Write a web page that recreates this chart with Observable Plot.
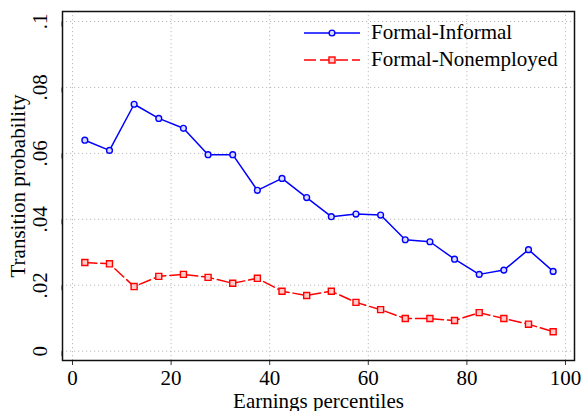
<!DOCTYPE html>
<html><head><meta charset="utf-8">
<script src="https://cdn.jsdelivr.net/npm/d3@7"></script>
<script src="https://cdn.jsdelivr.net/npm/@observablehq/plot@0.6"></script>
<style>
body{margin:0;background:#fff;}
#wrap{position:relative;width:582px;height:411px;font-family:"Liberation Serif","Times New Roman",serif;}
#legend{position:absolute;left:303px;top:19px;font-size:21px;line-height:27px;}
#legend div{display:flex;align-items:center;height:27px;}
#legend svg{margin-right:10px;}
</style></head><body><div id="wrap"></div>
<script>
const percentiles = [2.5,7.5,12.5,17.5,22.5,27.5,32.5,37.5,42.5,47.5,52.5,57.5,62.5,67.5,72.5,77.5,82.5,87.5,92.5,97.5];
const formalInformal = [0.0640,0.0609,0.0749,0.0706,0.0676,0.0596,0.0596,0.0488,0.0524,0.0466,0.0408,0.0416,0.0413,0.0338,0.0332,0.0279,0.0233,0.0246,0.0308,0.0242];
const formalNonemployed = [0.0269,0.0265,0.0196,0.0227,0.0233,0.0224,0.0206,0.0221,0.0182,0.0169,0.0182,0.0148,0.0126,0.0099,0.0099,0.0093,0.0117,0.0099,0.0082,0.0059];
const seriesNames = ["Formal-Informal","Formal-Nonemployed"];
const xTicks = [0,20,40,60,80,100];
const yTicks = [0,0.02,0.04,0.06,0.08,0.1];
const yTickLabels = ["0",".02",".04",".06",".08",".1"];
const xLabel = "Earnings percentiles";
const yLabel = "Transition probability";

const blue = "#0000ff", red = "#ff0000";
const grid = {stroke:"#bcbcbc", strokeOpacity:1, strokeDasharray:"1.2,2.8", strokeWidth:1};

const chart = Plot.plot({
  width:582, height:411,
  marginLeft:62, marginRight:8, marginTop:11, marginBottom:51,
  style:{fontFamily:"'Liberation Serif','Times New Roman',serif", fontSize:"21px", background:"white", color:"black"},
  x:{domain:[-2.03,101.83]},
  y:{domain:[-0.00282,0.10303]},
  marks:[
    Plot.gridX(xTicks, grid),
    Plot.gridY(yTicks, grid),
    Plot.axisX(xTicks, {tickSize:5, tickPadding:5, label:null, fontSize:21, stroke:"#333"}),
    Plot.axisY(yTicks, {tickSize:5, tickPadding:11, rotate:-90, textAnchor:"middle", lineAnchor:"bottom", fontSize:21, label:null, stroke:"#333",
      tickFormat:d => yTickLabels[yTicks.indexOf(d)]}),
    Plot.text([xLabel], {frameAnchor:"bottom", dy:47, lineAnchor:"bottom", text:d=>d, fontSize:21}),
    Plot.text([yLabel], {frameAnchor:"left", dx:-44, rotate:-90, textAnchor:"middle", lineAnchor:"middle", text:d=>d, fontSize:21}),
    Plot.frame({stroke:"#111", strokeWidth:1.5}),
    Plot.line(formalInformal, {x:percentiles, y:formalInformal, stroke:blue, strokeWidth:1.5}),
    Plot.dot(formalInformal, {x:percentiles, y:formalInformal, r:2.9, stroke:blue, strokeWidth:1.4, fill:"#dcdcff"}),
    Plot.line(formalNonemployed, {x:percentiles, y:formalNonemployed, stroke:red, strokeWidth:1.5, strokeDasharray:"12,4"}),
    Plot.dot(formalNonemployed, {x:percentiles, y:formalNonemployed, symbol:"square", r:3.4, stroke:red, strokeWidth:1.4, fill:"#ffcccc"})
  ]
});
const wrap = document.getElementById("wrap");
wrap.appendChild(chart);

const legend = document.createElement("div");
legend.id = "legend";
legend.innerHTML =
  `<div><svg width="58" height="10"><line x1="1" x2="57" y1="5" y2="5" stroke="${blue}" stroke-width="1.5"/><circle cx="29" cy="5" r="2.9" stroke="${blue}" stroke-width="1.4" fill="#dcdcff"/></svg><span>${seriesNames[0]}</span></div>` +
  `<div><svg width="58" height="10"><line x1="1" x2="57" y1="5" y2="5" stroke="${red}" stroke-width="1.5" stroke-dasharray="12,4"/><rect x="26" y="2" width="6" height="6" stroke="${red}" stroke-width="1.4" fill="#ffcccc"/></svg><span>${seriesNames[1]}</span></div>`;
wrap.appendChild(legend);
</script>
</body></html>
